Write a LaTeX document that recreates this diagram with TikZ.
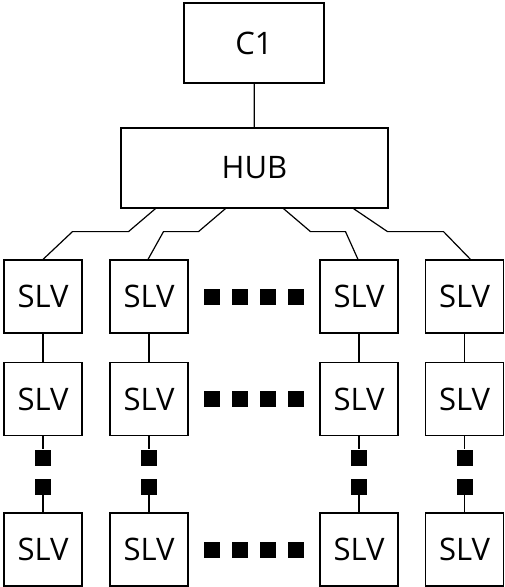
\documentclass[tikz,border=0pt]{standalone}
\usepackage{fontspec}
\setmainfont{Open Sans}

\begin{document}
\begin{tikzpicture}[
    x=1pt, y=-1pt,
    box/.style={draw, line width=1.2pt, inner sep=0pt,
        font=\fontsize{31}{31}\selectfont},
    slv/.style={box, minimum width=78pt, minimum height=73pt},
    dot/.style={fill=black, inner sep=0pt, minimum size=16pt},
    link/.style={line width=1.2pt}
]
\useasboundingbox (0,0) rectangle (505,587);

% ---------- Parameters ----------
\def\colA{43}
\def\colB{149}
\def\colC{359}
\def\colD{464.5}
\def\rowA{296.5}
\def\rowB{399}
\def\rowC{549.5}

% ---------- Controller and hub ----------
\node[box, minimum width=140pt, minimum height=80pt] (c1) at (254,43) {C1};
\node[box, minimum width=267pt, minimum height=80pt] (hub) at (254.5,168) {HUB};

\draw[link] (c1) -- (hub);

% ---------- Slave boxes ----------
\node[slv] (s11) at (\colA,\rowA) {SLV};
\node[slv] (s12) at (\colB,\rowA) {SLV};
\node[slv] (s13) at (\colC,\rowA) {SLV};
\node[slv] (s14) at (\colD,\rowA) {SLV};

\node[slv] (s21) at (\colA,\rowB) {SLV};
\node[slv] (s22) at (\colB,\rowB) {SLV};
\node[slv] (s23) at (\colC,\rowB) {SLV};
\node[slv] (s24) at (\colD,\rowB) {SLV};

\node[slv] (s31) at (\colA,\rowC) {SLV};
\node[slv] (s32) at (\colB,\rowC) {SLV};
\node[slv] (s33) at (\colC,\rowC) {SLV};
\node[slv] (s34) at (\colD,\rowC) {SLV};

% ---------- Hub to first row ----------
\draw[link] ([xshift=-99pt]hub.south) -- ++(-27,23) -- ++(-56,0) -- (s11.north);
\draw[link] ([xshift=-29pt]hub.south) -- ++(-27,23) -- ++(-35,0) -- ([xshift=-1pt]s12.north);
\draw[link] ([xshift=29pt]hub.south) -- ++(27,23) -- ++(35,0) -- ([xshift=-1pt]s13.north);
\draw[link] ([xshift=99pt]hub.south) -- ++(34,23) -- ++(56,0) -- ([xshift=6pt]s14.north);

% ---------- First to second row ----------
\draw[link] (s11) -- (s21);
\draw[link] (s12) -- (s22);
\draw[link] (s13) -- (s23);
\draw[link] (s14) -- (s24);

% ---------- Vertical dots ----------
\node[dot] (v1a) at (\colA,457.5) {};
\node[dot] (v1b) at (\colA,487) {};
\node[dot] (v2a) at (\colB,457.5) {};
\node[dot] (v2b) at (\colB,487) {};
\node[dot] (v3a) at (\colC,457.5) {};
\node[dot] (v3b) at (\colC,487) {};
\node[dot] (v4a) at (\colD,457.5) {};
\node[dot] (v4b) at (\colD,487) {};

\draw[link] (s21) -- (v1a);
\draw[link] (v1b) -- (s31);
\draw[link] (s22) -- (v2a);
\draw[link] (v2b) -- (s32);
\draw[link] (s23) -- (v3a);
\draw[link] (v3b) -- (s33);
\draw[link] (s24) -- (v4a);
\draw[link] (v4b) -- (s34);

% ---------- Horizontal dots ----------
\foreach \r/\y in {a/\rowA, b/\rowB, c/\rowC}
    \foreach \i/\x in {1/212, 2/240, 3/268, 4/296}
        \node[dot] (h\r\i) at (\x,\y) {};

\end{tikzpicture}
\end{document}
